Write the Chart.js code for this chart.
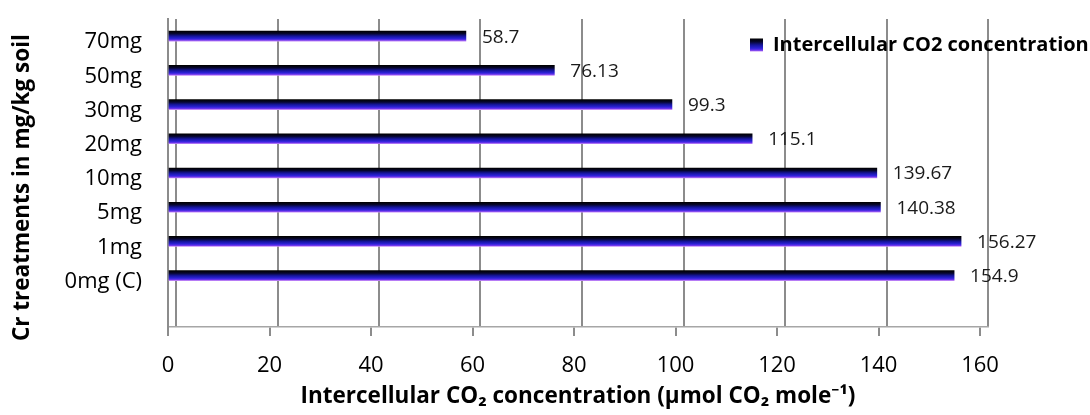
<!DOCTYPE html>
<html>
<head>
<meta charset="utf-8">
<script src="https://cdn.jsdelivr.net/npm/chart.js@4.4.1/dist/chart.umd.min.js"></script>
<style>
  html, body { margin: 0; padding: 0; background: #ffffff; }
  #wrap { width: 1090px; height: 415px; position: relative; }
</style>
</head>
<body>
<div id="wrap"><canvas id="c" width="1090" height="415"></canvas></div>
<script>
// ---- data ----
const categories = ['70mg', '50mg', '30mg', '20mg', '10mg', '5mg', '1mg', '0mg (C)'];
const co2Values = [58.7, 76.13, 99.3, 115.1, 139.67, 140.38, 156.27, 154.9];
const valueLabels = ['58.7', '76.13', '99.3', '115.1', '139.67', '140.38', '156.27', '154.9'];
const xTickValues = [0, 20, 40, 60, 80, 100, 120, 140, 160];
const seriesName = 'Intercellular CO2 concentration';
const xTitle = 'Intercellular CO\u2082 concentration (\u00b5mol CO\u2082 mole\u207b\u00b9)';
const yTitle = 'Cr treatments in mg/kg soil';

// an empty slot below the last category (the 3D floor space)
const yLabels = categories.concat(['']);
const yData = co2Values.concat([null]);

const FONT = "'Open Sans', 'Noto Sans', sans-serif";
const GRID = '#8c8c8c';

function barGradient(ctx, y, h) {
  const g = ctx.createLinearGradient(0, y - h / 2, 0, y + h / 2);
  g.addColorStop(0.0, '#000000');
  g.addColorStop(0.25, '#06062e');
  g.addColorStop(0.5, '#15159a');
  g.addColorStop(0.75, '#2d22d8');
  g.addColorStop(0.9, '#6a34ec');
  g.addColorStop(1.0, '#c58af7');
  return g;
}

// fixed px per unit so the "back wall" grid can be shifted like the 3D original
const AREA_LEFT = 168, AREA_RIGHT = 988;
const PX_PER_UNIT = (980 - AREA_LEFT) / 160;
const X_MAX = (AREA_RIGHT - AREA_LEFT) / PX_PER_UNIT;
const BACK_SHIFT = 8 / PX_PER_UNIT;

const legendPlacer = {
  id: 'legendPlacer',
  afterLayout(chart) {
    const lg = chart.legend;
    if (!lg) return;
    const w = lg.width, h = lg.height;
    lg.left = 740; lg.right = 740 + w;
    lg.top = 25; lg.bottom = 25 + h;
  }
};

const valueLabelPlugin = {
  id: 'valueLabels',
  afterDatasetsDraw(chart) {
    const ctx = chart.ctx;
    const meta = chart.getDatasetMeta(0);
    ctx.save();
    ctx.font = "19px " + FONT;
    ctx.fillStyle = '#1a1a1a';
    ctx.textAlign = 'left';
    ctx.textBaseline = 'middle';
    meta.data.forEach((el, i) => {
      if (i >= valueLabels.length) return;
      ctx.fillText(valueLabels[i], el.x + 16, el.y + 1);
    });
    ctx.restore();
  }
};

new Chart(document.getElementById('c'), {
  type: 'bar',
  data: {
    labels: yLabels,
    datasets: [{
      label: seriesName,
      data: yData,
      barThickness: 10,
      borderWidth: 0,
      backgroundColor: (c) => {
        if (c.type !== 'data') return '#1a1aa0';
        const ch = c.chart;
        const y = ch.scales.y.getPixelForValue(c.dataIndex);
        return barGradient(ch.ctx, y, 10);
      }
    }]
  },
  options: {
    indexAxis: 'y',
    responsive: false,
    animation: false,
    layout: { padding: { left: 0, top: 19, right: 1090 - AREA_RIGHT, bottom: 0 } },
    plugins: {
      legend: {
        position: 'chartArea',
        align: 'start',
        labels: {
          boxWidth: 13,
          boxHeight: 13,
          padding: 10,
          color: '#000000',
          font: { family: FONT, size: 20, weight: 'bold' },
          generateLabels: (chart) => [{
            text: seriesName,
            fillStyle: barGradient(chart.ctx, 45, 13),
            strokeStyle: 'rgba(0,0,0,0)',
            lineWidth: 0,
            hidden: false,
            datasetIndex: 0
          }]
        }
      },
      tooltip: { enabled: false }
    },
    scales: {
      x: {
        type: 'linear',
        position: 'bottom',
        min: 0,
        max: X_MAX,
        afterBuildTicks: (s) => { s.ticks = xTickValues.map(v => ({ value: v })); },
        afterFit: (s) => { s.height = 88; s.paddingLeft = 0; s.paddingRight = 0; },
        grid: { drawOnChartArea: false, drawTicks: true, tickLength: 9, color: GRID, lineWidth: 2 },
        border: { display: true, color: '#a6a6a6', width: 1.5 },
        ticks: { color: '#000000', font: { family: FONT, size: 22 }, padding: 17, maxRotation: 0 },
        title: {
          display: true,
          text: xTitle,
          color: '#000000',
          font: { family: FONT, size: 22.5, weight: 'bold' },
          padding: { top: 0, bottom: 4.5 }
        }
      },
      xg: {
        type: 'linear',
        position: 'top',
        min: -BACK_SHIFT,
        max: X_MAX - BACK_SHIFT,
        afterBuildTicks: (s) => { s.ticks = xTickValues.map(v => ({ value: v })); },
        afterFit: (s) => { s.height = 0; s.paddingLeft = 0; s.paddingRight = 0; },
        grid: { drawOnChartArea: true, drawTicks: false, color: GRID, lineWidth: 2 },
        border: { display: false },
        ticks: { display: false }
      },
      y: {
        type: 'category',
        position: 'left',
        afterFit: (s) => { s.width = AREA_LEFT; s.paddingTop = 0; s.paddingBottom = 0; },
        grid: { display: false, drawTicks: false },
        border: { display: true, color: GRID, width: 2 },
        ticks: { color: '#000000', font: { family: FONT, size: 22 }, padding: 26, labelOffset: 6, autoSkip: false },
        title: {
          display: true,
          text: yTitle + '     ',
          color: '#000000',
          font: { family: FONT, size: 22.5, weight: 'bold' },
          padding: { top: 9.5, bottom: 0 }
        }
      }
    }
  },
  plugins: [legendPlacer, valueLabelPlugin]
});
</script>
</body>
</html>
